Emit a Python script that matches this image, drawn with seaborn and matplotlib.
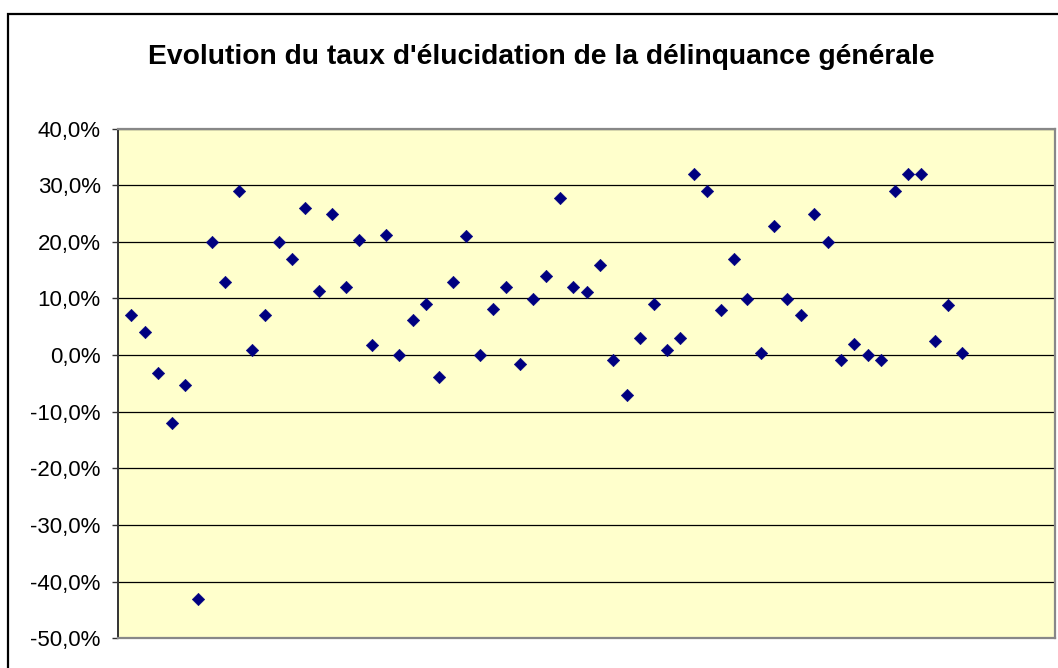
import matplotlib
matplotlib.use("Agg")
import matplotlib.pyplot as plt
import matplotlib.patches as patches
from matplotlib.ticker import FuncFormatter, MultipleLocator
import numpy as np
import pandas as pd
import seaborn as sns

# taux d'elucidation, variation en %
taux = [7.0, 4.0, -3.1, -12.0, -5.2, -43.0, 20.0, 12.9, 28.9, 0.9,
        7.1, 20.0, 16.9, 25.9, 11.3, 24.9, 12.0, 20.3, 1.8, 21.2,
        0.0, 6.2, 9.0, -3.9, 12.9, 21.0, 0.0, 8.1, 12.0, -1.5,
        9.9, 13.9, 27.7, 12.0, 11.1, 16.0, -0.9, -7.1, 3.1, 9.0,
        0.9, 3.1, 32.0, 29.0, 8.0, 16.9, 9.9, 0.35, 22.75, 9.9,
        7.05, 24.9, 20.0, -0.9, 1.9, 0.0, -0.9, 29.0, 32.0, 32.0,
        2.5, 8.9, 0.35]
rang = np.arange(1, len(taux) + 1)
titre = "Evolution du taux d'élucidation de la délinquance générale"

df = pd.DataFrame({"rang": rang, "taux": np.array(taux) / 100})

sns.set_theme(style="white")
plt.rcParams['font.family'] = ['Liberation Sans', 'DejaVu Sans']

fig = plt.figure(figsize=(10.58, 6.68), dpi=100)
ax = fig.add_axes([118 / 1058, 29.7 / 668, 937.3 / 1058, 509.7 / 668])
ax.set_facecolor('#FFFFCC')

sns.scatterplot(data=df, x='rang', y='taux', ax=ax, marker='D', s=40,
                color='#000080', edgecolor='#000080', linewidth=0.4, zorder=3)

ax.set_xlim(0, 70)
ax.set_ylim(-0.5, 0.4)
ax.yaxis.set_major_locator(MultipleLocator(0.1))
ax.yaxis.set_major_formatter(FuncFormatter(lambda v, p: f"{v*100:.1f}%".replace('.', ',')))
ax.set_xticks([])
ax.set_xlabel('')
ax.set_ylabel('')
ax.grid(axis='y', color='black', linewidth=0.9)
ax.set_axisbelow(True)
ax.tick_params(axis='y', direction='out', length=4.5, width=1, color='#333333',
               left=True, pad=8, labelsize=16, labelcolor='black')

for side in ['top', 'right', 'bottom']:
    ax.spines[side].set_color('#888888')
    ax.spines[side].set_linewidth(1.6)
ax.spines['left'].set_color('#333333')
ax.spines['left'].set_linewidth(1.4)

fig.text(0.512, 0.914, titre, ha='center', va='center',
         fontsize=20.3, fontweight='bold', color='black')

# cadre noir du graphique
fig.patches.append(patches.Rectangle((8 / 1058, -0.05), 1.2, (654 + 0.05 * 668) / 668,
                                     transform=fig.transFigure, fill=False,
                                     edgecolor='black', linewidth=1.6, zorder=0))

plt.savefig('out.png', dpi=100)
